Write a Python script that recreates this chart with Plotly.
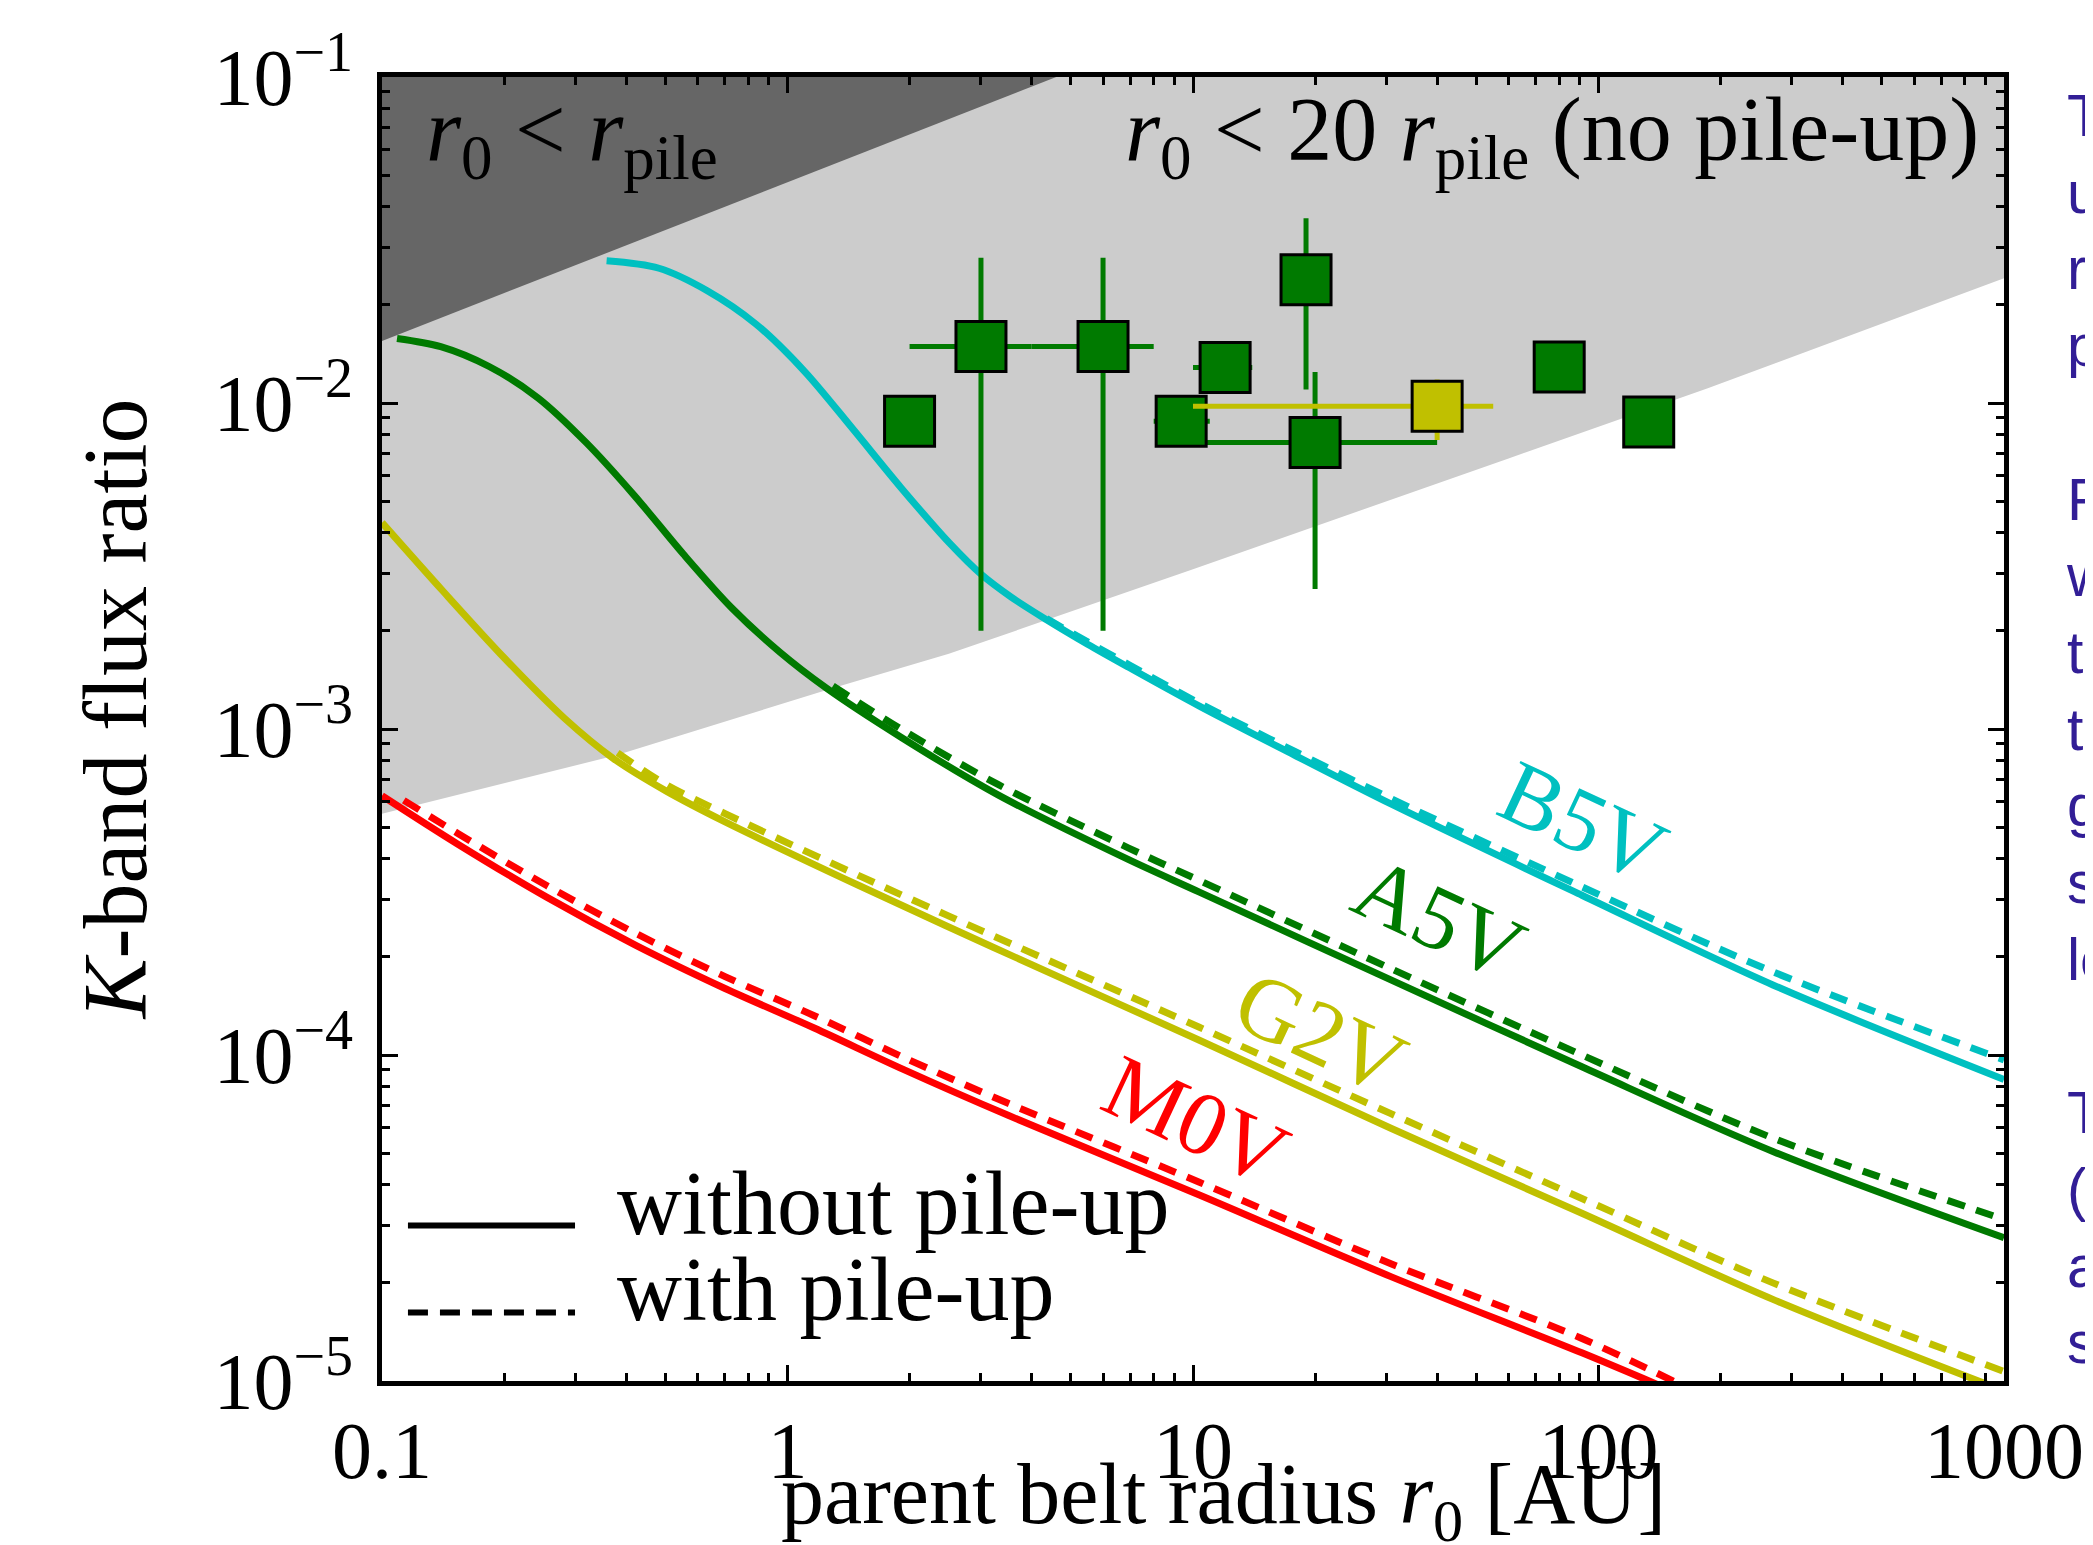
import math
import plotly.graph_objects as go

# ---------------- data ----------------
# model curves (parent belt radius [AU], K-band flux ratio)
b5v_x = [0.358, 0.482, 0.634, 0.836, 1.10, 1.45, 1.905, 2.51, 3.0, 3.548, 4.355, 5.495, 6.918, 10.37, 17.78,
         30.76, 91.0, 269.2, 1000]
b5v_y = [0.0273, 0.0259, 0.0221, 0.01746, 0.01253, 0.00832, 0.0055, 0.003715, 0.002985, 0.002547, 0.002163,
         0.00182, 0.001549, 0.001175, 0.000832, 0.000589, 0.000309, 0.000164, 0.0000841]
b5v_pile_x = [4.355, 5.495, 6.918, 10.37, 17.78, 30.76, 91.0, 269.2, 1000]
b5v_pile_y = [0.00218, 0.00185, 0.00158, 0.0012, 0.000855, 0.000612, 0.000328, 0.00018, 0.0000966]

a5v_x = [0.1089, 0.1396, 0.1837, 0.2421, 0.3184, 0.4198, 0.5534, 0.7278, 0.959, 1.245, 1.905, 3.304, 6.92,
         10.37, 30.76, 91.0, 269.2, 1000]
a5v_y = [0.01578, 0.01489, 0.01294, 0.01038, 0.00757, 0.00519, 0.00344, 0.002355, 0.001718, 0.001337,
         0.000944, 0.000628, 0.000398, 0.000316, 0.00017, 0.000092, 0.0000506, 0.0000275]
a5v_pile_x = [1.294, 1.905, 3.304, 6.92, 10.37, 30.76, 91.0, 269.2, 1000]
a5v_pile_y = [0.001355, 0.001, 0.000676, 0.000432, 0.000343, 0.000184, 0.0001, 0.0000556, 0.0000313]

g2v_x = [0.1, 0.1413, 0.1995, 0.2818, 0.3715, 0.5012, 0.7015, 1.5, 3.214, 10.37, 30.76, 91.0, 269.2, 1000]
g2v_y = [0.004295, 0.00265, 0.00166, 0.001079, 0.000813, 0.000646, 0.000519, 0.000331, 0.000214, 0.000111,
         0.0000596, 0.0000327, 0.0000178, 0.00000933]
g2v_pile_x = [0.381, 0.5012, 0.7015, 1.5, 3.214, 10.37, 30.76, 91.0, 269.2, 1000]
g2v_pile_y = [0.000845, 0.000676, 0.00055, 0.000355, 0.000232, 0.0001216, 0.0000661, 0.0000363, 0.00002,
              0.0000107]

m0v_x = [0.1, 0.1535, 0.2547, 0.4227, 0.7015, 1.164, 1.936, 3.5, 10.37, 30.76, 91.0, 158.5]
m0v_y = [0.000624, 0.000444, 0.000305, 0.000217, 0.00016, 0.000121, 0.0000902, 0.0000653, 0.0000372,
         0.0000209, 0.0000122, 0.00000912]
m0v_pile_x = [0.1132, 0.1535, 0.2547, 0.4227, 0.7015, 1.164, 1.936, 3.5, 10.37, 30.76, 91.0, 177.8]
m0v_pile_y = [0.000604, 0.000479, 0.000331, 0.000236, 0.000174, 0.000132, 0.0000982, 0.0000711, 0.0000407,
              0.0000229, 0.0000135, 0.00000912]

# shaded regions
pile_edge_x = [0.1, 4.6]                 # r0 = r_pile
pile_edge_y = [0.0155, 0.1]
nopile_edge_x = [0.1, 0.38, 1.29, 2.5, 10, 30, 60, 186, 1000]   # r0 = 20 r_pile
nopile_edge_y = [0.00055, 0.000832, 0.001334, 0.0017, 0.00309, 0.00501, 0.00676, 0.0111, 0.02415]

# observed systems (green) with error bar limits (None = no bar)
obs_x = [2.0, 3.0, 6.0, 12.0, 9.35, 19.0, 20.0, 80.0, 133.0]
obs_y = [0.00879, 0.0149, 0.0149, 0.01285, 0.00879, 0.0239, 0.00757, 0.0129, 0.00875]
obs_x_lo = [None, 2.0, 4.0, 10.0, 8.0, None, 10.8, None, None]
obs_x_hi = [None, 4.0, 8.0, 14.0, 11.0, None, 40.0, None, None]
obs_y_lo = [None, 0.002, 0.002, None, None, 0.011, 0.00269, None, None]
obs_y_hi = [None, 0.0279, 0.0279, None, None, 0.0369, 0.01245, None, None]

# observed system (yellow)
sun_x = [40.0]
sun_y = [0.00977]
sun_x_lo = [10.0]
sun_x_hi = [55.0]
sun_y_lo = [0.0077]
sun_y_hi = [0.0118]

x_ticks = [0.1, 1, 10, 100, 1000]
x_ticktext = ["0.1", "1", "10", "100", "1000"]
y_ticks = [1e-5, 1e-4, 1e-3, 1e-2, 1e-1]
y_ticktext = ["10<sup>\u22125</sup>", "10<sup>\u22124</sup>", "10<sup>\u22123</sup>",
              "10<sup>\u22122</sup>", "10<sup>\u22121</sup>"]

# ---------------- styling ----------------
CYAN = "#00c0c0"
GREEN = "#007a00"
YELLOW = "#c0c000"
RED = "#ff0000"
SERIF = "Liberation Serif"
TXT = 90
LW = 7
DASH = "18px,12px"
SMOOTH = 0.9

fig = go.Figure()

# light grey: r0 < 20 r_pile
fig.add_trace(go.Scatter(
    x=nopile_edge_x + [1000, 0.1], y=nopile_edge_y + [0.1, 0.1],
    mode="lines", fill="toself", fillcolor="#cccccc", line=dict(width=0),
    hoverinfo="skip", showlegend=False))
# dark grey: r0 < r_pile
fig.add_trace(go.Scatter(
    x=pile_edge_x + [0.1], y=pile_edge_y + [0.1],
    mode="lines", fill="toself", fillcolor="#666666", line=dict(width=0),
    hoverinfo="skip", showlegend=False))

curves = [
    (b5v_x, b5v_y, b5v_pile_x, b5v_pile_y, CYAN, "B5V"),
    (a5v_x, a5v_y, a5v_pile_x, a5v_pile_y, GREEN, "A5V"),
    (g2v_x, g2v_y, g2v_pile_x, g2v_pile_y, YELLOW, "G2V"),
    (m0v_x, m0v_y, m0v_pile_x, m0v_pile_y, RED, "M0V"),
]
for xs, ys, xp, yp, col, name in curves:
    fig.add_trace(go.Scatter(x=xs, y=ys, mode="lines", name=name + " without pile-up",
                             line=dict(color=col, width=LW, shape="spline", smoothing=SMOOTH),
                             showlegend=False))
    fig.add_trace(go.Scatter(x=xp, y=yp, mode="lines", name=name + " with pile-up",
                             line=dict(color=col, width=LW, dash=DASH, shape="spline", smoothing=SMOOTH),
                             showlegend=False))


def err(vals, lims, upper):
    out = []
    for v, l in zip(vals, lims):
        if l is None:
            out.append(0)
        else:
            out.append(l - v if upper else v - l)
    return out


fig.add_trace(go.Scatter(
    x=obs_x, y=obs_y, mode="markers", showlegend=False, name="observed",
    marker=dict(symbol="square", size=50, color=GREEN, line=dict(color="black", width=3)),
    error_x=dict(type="data", symmetric=False, array=err(obs_x, obs_x_hi, True),
                 arrayminus=err(obs_x, obs_x_lo, False), color=GREEN, thickness=5, width=0),
    error_y=dict(type="data", symmetric=False, array=err(obs_y, obs_y_hi, True),
                 arrayminus=err(obs_y, obs_y_lo, False), color=GREEN, thickness=5, width=0),
))
fig.add_trace(go.Scatter(
    x=sun_x, y=sun_y, mode="markers", showlegend=False, name="observed (yellow)",
    marker=dict(symbol="square", size=50, color=YELLOW, line=dict(color="black", width=3)),
    error_x=dict(type="data", symmetric=False, array=err(sun_x, sun_x_hi, True),
                 arrayminus=err(sun_x, sun_x_lo, False), color=YELLOW, thickness=5, width=0),
    error_y=dict(type="data", symmetric=False, array=err(sun_y, sun_y_hi, True),
                 arrayminus=err(sun_y, sun_y_lo, False), color=YELLOW, thickness=5, width=0),
))

# minor tick positions (2..9 in each decade)
x_minor = [d * k for d in [0.1, 1, 10, 100] for k in range(2, 10)]
y_minor = [d * k for d in [1e-5, 1e-4, 1e-3, 1e-2] for k in range(2, 10)]

axis_common = dict(
    showline=True, linewidth=5, linecolor="black", mirror="allticks",
    ticks="inside", ticklen=16, tickwidth=3, tickcolor="black",
    showgrid=False, zeroline=False,
    tickfont=dict(family=SERIF, size=80, color="black"),
)

fig.update_xaxes(
    type="log", range=[-1, 3], tickmode="array", tickvals=x_ticks, ticktext=x_ticktext,
    minor=dict(tickmode="array", tickvals=x_minor, ticks="inside", ticklen=8, tickwidth=3,
               tickcolor="black", showgrid=False),
    ticklabelstandoff=-4,
    **axis_common)
fig.update_yaxes(
    type="log", range=[-5, -1], tickmode="array", tickvals=y_ticks, ticktext=y_ticktext,
    minor=dict(tickmode="array", tickvals=y_minor, ticks="inside", ticklen=8, tickwidth=3,
               tickcolor="black", showgrid=False),
    ticklabelstandoff=8,
    **axis_common)

annotations = []
# axis titles
annotations.append(dict(x=0.5185, y=-0.091, xref="paper", yref="paper", xanchor="center", yanchor="middle",
                        text="parent belt radius <i>r</i><sub>0</sub> [AU]", showarrow=False,
                        font=dict(family=SERIF, size=86, color="black")))
annotations.append(dict(x=-0.1646, y=0.515, xref="paper", yref="paper", xanchor="center", yanchor="middle",
                        text="<i>K</i>-band flux ratio", showarrow=False, textangle=-90,
                        font=dict(family=SERIF, size=TXT, color="black")))

# curve labels (data coordinates; log axes take log10 positions)
labels = [("B5V", 91.6, 5.19e-4, CYAN), ("A5V", 40.6, 2.63e-4, GREEN),
          ("G2V", 20.6, 1.17e-4, YELLOW), ("M0V", 10.2, 6.3e-5, RED)]
for txt, lx, ly, col in labels:
    annotations.append(dict(x=math.log10(lx), y=math.log10(ly), xref="x", yref="y", text=txt,
                            showarrow=False, textangle=25,
                            font=dict(family=SERIF, size=TXT, color=col)))

# region labels
annotations.append(dict(x=0.026, y=0.954, xref="paper", yref="paper", xanchor="left", yanchor="middle",
                        text="<i>r</i><sub>0</sub> &lt; <i>r</i><sub>pile</sub>", showarrow=False,
                        font=dict(family=SERIF, size=TXT, color="black")))
annotations.append(dict(x=0.986, y=0.954, xref="paper", yref="paper", xanchor="right", yanchor="middle",
                        text="<i>r</i><sub>0</sub> &lt; 20 <i>r</i><sub>pile</sub> (no pile-up)",
                        showarrow=False, font=dict(family=SERIF, size=TXT, color="black")))

# legend text
annotations.append(dict(x=0.1436, y=0.1365, xref="paper", yref="paper", xanchor="left", yanchor="middle",
                        text="without pile-up", showarrow=False,
                        font=dict(family=SERIF, size=TXT, color="black")))
annotations.append(dict(x=0.1436, y=0.0698, xref="paper", yref="paper", xanchor="left", yanchor="middle",
                        text="with pile-up", showarrow=False,
                        font=dict(family=SERIF, size=TXT, color="black")))

# cut-off slide text at the right edge
side_text = "<br>".join(["T", "u", "ra", "p", "", "F", "w", "to", "th", "g", "s", "lo", "", "T", "(s", "a", "s"])
annotations.append(dict(x=1.037, y=0.5, xref="paper", yref="paper", xanchor="left", yanchor="middle",
                        align="left", text=side_text, showarrow=False,
                        font=dict(family="Liberation Sans", size=59, color="#321e96")))

shapes = [
    dict(type="line", xref="paper", yref="paper", x0=0.016, x1=0.119, y0=0.1193, y1=0.1193,
         line=dict(color="black", width=6)),
    dict(type="line", xref="paper", yref="paper", x0=0.016, x1=0.119, y0=0.0525, y1=0.0525,
         line=dict(color="black", width=6, dash="20px,12px")),
]

fig.update_layout(
    width=2093, height=1545,
    margin=dict(l=374, r=97, t=69, b=172, autoexpand=False),
    paper_bgcolor="white", plot_bgcolor="white",
    annotations=annotations, shapes=shapes,
    showlegend=False,
)

fig.write_html("out.html")
